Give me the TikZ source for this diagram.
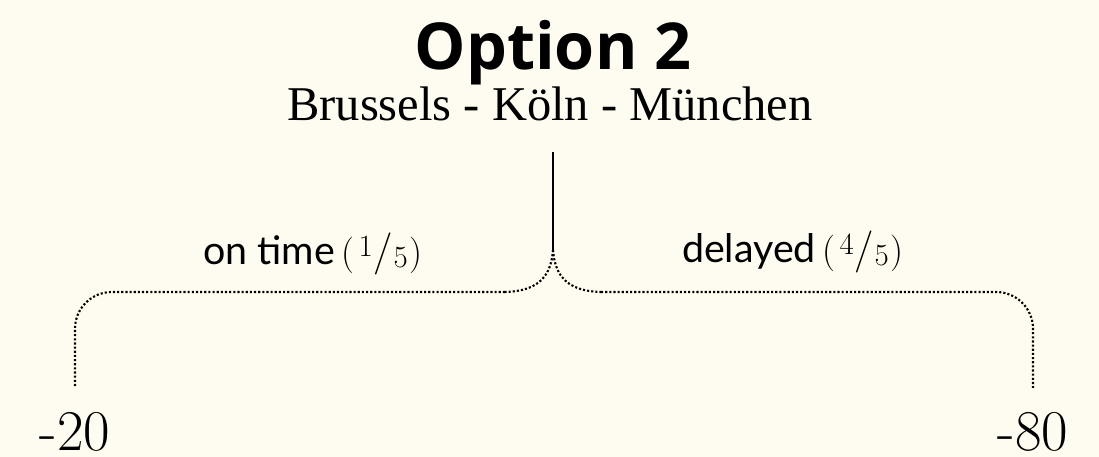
\documentclass[tikz,border=0pt]{standalone}
\usepackage{fontspec}
\newfontfamily\titlefont{Open Sans}
\newfontfamily\subfont{Liberation Serif}
\newfontfamily\labfont{Lato}
\newfontfamily\lmfont{Latin Modern Roman}
\definecolor{bgcream}{HTML}{FEFBF0}
\newcommand{\fracr}[2]{{\lmfont\fontsize{26}{30}\selectfont(\kern0.1em\raisebox{5.7pt}{\fontsize{22}{22}\selectfont #1}\kern0.02em{\fontsize{30}{30}\selectfont/}\kern0.02em\raisebox{-2pt}{\fontsize{22}{22}\selectfont #2}\kern0.06em)}}
\begin{document}
\begin{tikzpicture}[x=0.025cm,y=-0.025cm,
  txt/.style={inner sep=0pt, anchor=base},
  solidline/.style={line width=0.9pt, black},
  dotline/.style={line width=1.5pt, black, dash pattern=on 1.5pt off 1.45pt},
  bracedot/.style={dotline, rounded corners=0.92cm}]
\fill[bgcream] (0,0) rectangle (1099,457);
\useasboundingbox (0,0) rectangle (1099,457);
\node[txt, font=\titlefont\bfseries\fontsize{46}{50}\selectfont] (title) at (553,70) {Option 2};
\node[txt, font=\subfont\fontsize{34.5}{40}\selectfont] (sub) at (550,121) {Brussels - Köln - München};
\node[txt, font=\labfont\fontsize{28}{32}\selectfont] (ontime) at (313,265) {on time\kern5pt\fracr{1}{5}};
\node[txt, font=\labfont\fontsize{28}{32}\selectfont] (delayed) at (793,263) {delayed\kern5pt\fracr{4}{5}};
\node[txt, text depth=0pt, font=\lmfont\fontsize{41}{45}\selectfont] (v20) at (75,451) {-20};
\node[txt, text depth=0pt, font=\lmfont\fontsize{41}{45}\selectfont] (v80) at (1033,451) {-80};
\coordinate (top) at (553,152);
\coordinate (tip) at (553,250);
\coordinate (lh) at (505,292);
\coordinate (rh) at (601,292);
\coordinate (lc) at (75,292);
\coordinate (rc) at (1033,292);
\coordinate (le) at (75,388);
\coordinate (re) at (1033,388);
\draw[solidline] (top) -- (tip);
\draw[dotline] (tip) .. controls (551,275) and (540,291) .. (lh);
\draw[dotline] (tip) .. controls (555,275) and (566,291) .. (rh);
\draw[bracedot] (lh) -- (lc) -- (le);
\draw[bracedot] (rh) -- (rc) -- (re);
\end{tikzpicture}
\end{document}
